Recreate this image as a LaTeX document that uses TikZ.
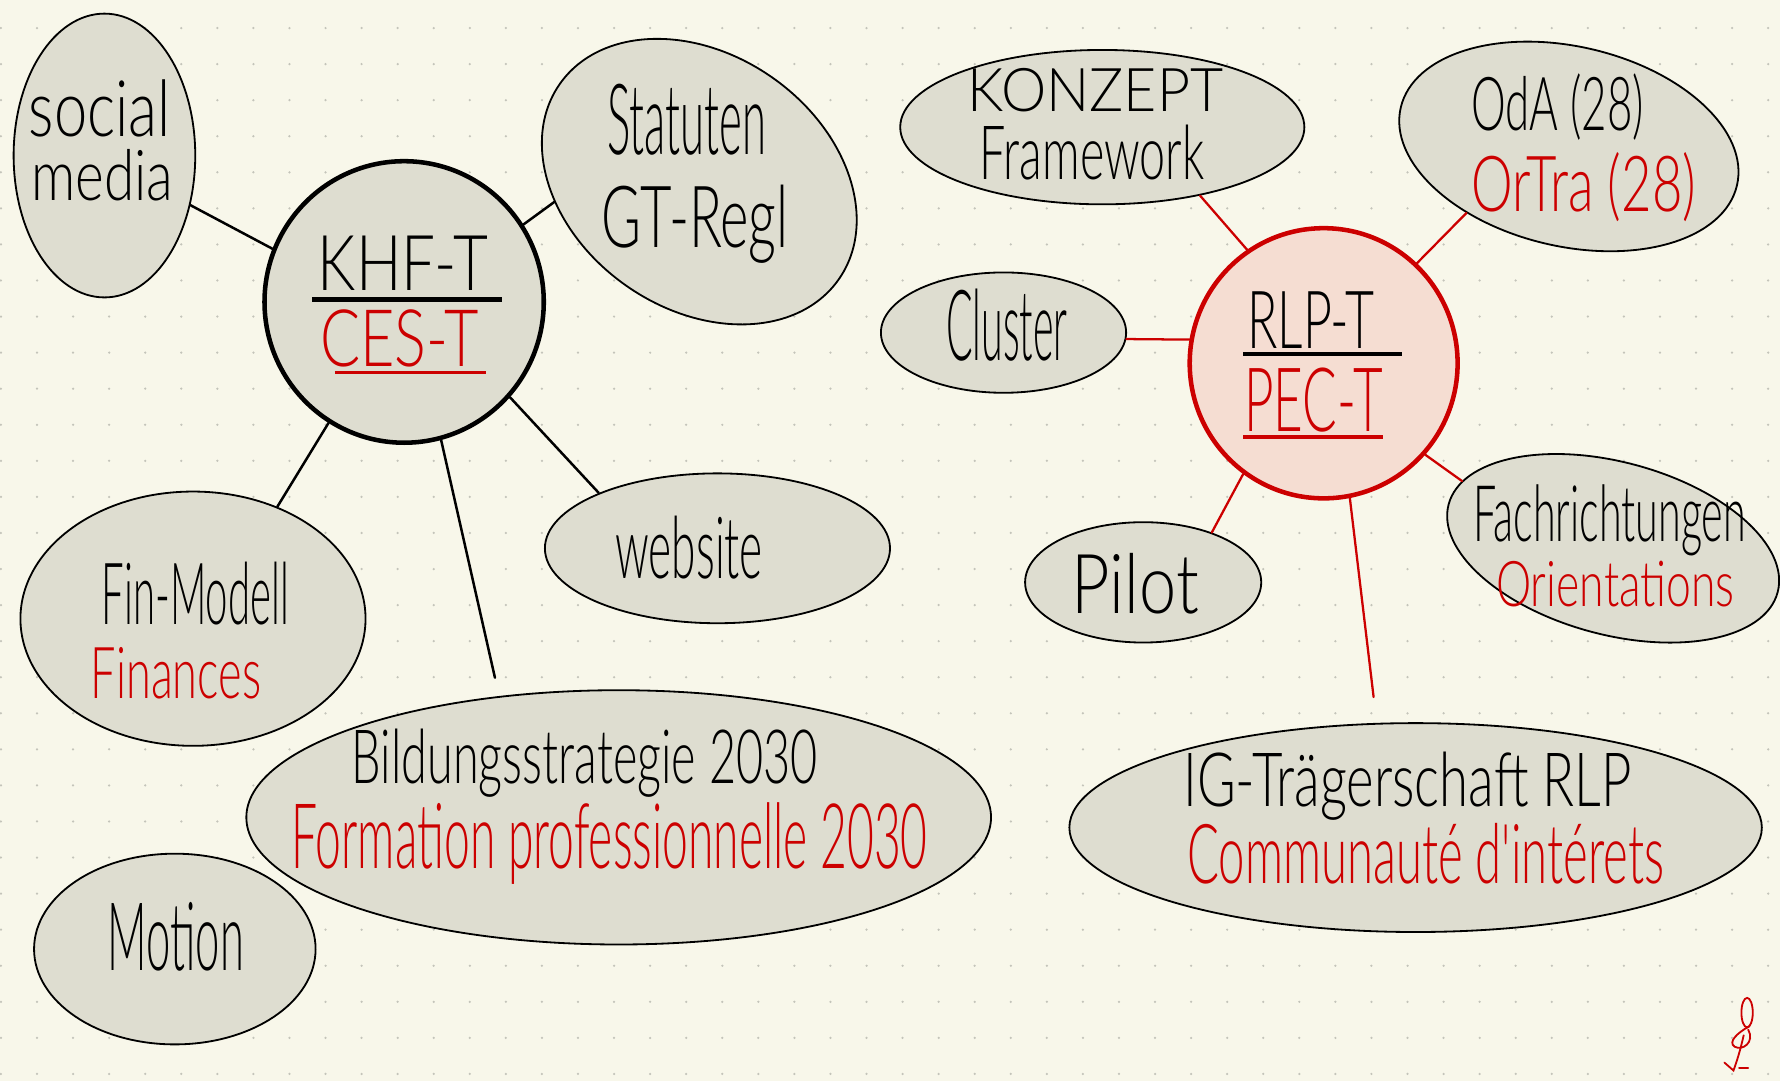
\documentclass[tikz,border=0pt]{standalone}
\usepackage{fontspec}
\usepackage{graphicx}
\newfontfamily\hand{Lato Light}[FakeStretch=0.75]
\usetikzlibrary{shapes.geometric}
\definecolor{bg}{RGB}{248,247,234}
\definecolor{bub}{RGB}{222,221,208}
\definecolor{pen}{RGB}{204,0,0}
\definecolor{pinkfill}{RGB}{245,221,210}
\definecolor{dotc}{RGB}{196,196,186}
\newcommand\hw[3]{\resizebox{#1pt}{#2pt}{\hand #3}}
\begin{document}
\begin{tikzpicture}[x=1pt,y=-1pt,
  bubble/.style={ellipse, draw=black, line width=1.6pt, fill=bub, inner sep=0pt},
  hub/.style={ellipse, line width=4pt, inner sep=0pt},
  link/.style={line width=2.2pt, line cap=round, draw=black},
  rlink/.style={line width=2pt, line cap=round, draw=pen},
  txt/.style={inner sep=0pt, anchor=base},
  rtxt/.style={inner sep=0pt, anchor=base, text=pen}]
\useasboundingbox (0,0) rectangle (1568,952);
\fill[bg] (0,0) rectangle (1568,952);
\foreach \i in {0,...,49}{\foreach \j in {0,...,29}{\fill[dotc] (0.83+31.77*\i,24.7+31.77*\j) circle (1.1);}}

% left cluster
\node[bubble, minimum width=160pt, minimum height=250pt] (sm) at (92,137) {};
\node[hub, draw=black, fill=bub, minimum width=246pt, minimum height=248pt] (khf) at (356,266) {};
\node[bubble, minimum width=300pt, minimum height=224pt, rotate=-35] (stat) at (616,160) {};
\node[bubble, minimum width=304pt, minimum height=132pt] (web) at (632,483) {};
\node[bubble, minimum width=304pt, minimum height=224pt] (fin) at (170,545) {};
\node[bubble, minimum width=656pt, minimum height=224pt] (bild) at (545,720) {};
\node[bubble, minimum width=248pt, minimum height=168pt] (mot) at (154,836) {};

% right cluster
\node[bubble, minimum width=356pt, minimum height=136pt] (konz) at (971,112) {};
\node[bubble, minimum width=304pt, minimum height=176pt, rotate=-13] (oda) at (1382,129) {};
\node[bubble, minimum width=216pt, minimum height=106pt] (clus) at (884,293) {};
\node[hub, draw=pen, fill=pinkfill, minimum width=236pt, minimum height=238pt] (rlp) at (1166,320) {};
\node[bubble, minimum width=300pt, minimum height=152pt, rotate=-15] (fach) at (1421,483) {};
\node[bubble, minimum width=208pt, minimum height=106pt] (pil) at (1007,513) {};
\node[bubble, minimum width=610pt, minimum height=184pt] (ig) at (1247,729) {};

% connectors
\coordinate (bildtip) at (436,597);
\coordinate (igtip) at (1210,614);
\draw[link] (sm.-30.4) -- (khf.158.4);
\draw[link] (khf.33.7) -- (stat.223.3);
\draw[link] (khf.-122.4) -- (fin.53.1);
\draw[link] (khf.-42.9) -- (web.155.8);
\draw[link] (khf.-75.7) -- (bildtip);
\draw[rlink] (konz.-35) -- (rlp.124.8);
\draw[rlink] (oda.226.4) -- (rlp.47.7);
\draw[rlink] (clus.-3) -- (rlp.170.4);
\draw[rlink] (rlp.-42.7) -- (fach.171.9);
\draw[rlink] (rlp.-126.5) -- (pil.36.7);
\draw[rlink] (rlp.-79.9) -- (igtip);

% texts (x centre, baseline)
\node[txt] (t1) at (88,120) {\hw{125}{50}{social}};
\node[txt] (t2) at (90,177) {\hw{125}{45}{media}};
\node[txt] (t3) at (355,256) {\hw{150}{48}{KHF-T}};
\node[rtxt] (t4) at (352,323) {\hw{140}{50}{CES-T}};
\draw[line width=4pt] (275,264) -- (442,264);
\draw[pen, line width=3pt] (295,328) -- (428,328);
\node[txt] (t5) at (605,136) {\hw{140}{62}{Statuten}};
\node[txt] (t6) at (612,218) {\hw{165}{55}{GT-Regl}};
\node[txt] (t7) at (607,510) {\hw{130}{55}{website}};
\node[txt] (t8) at (172,550) {\hw{165}{55}{Fin-Modell}};
\node[rtxt] (t9) at (155,615) {\hw{150}{45}{Finances}};
\node[txt] (t10) at (515,690) {\hw{410}{48}{Bildungsstrategie 2030}};
\node[rtxt] (t11) at (537,765) {\hw{560}{58}{Formation professionnelle 2030}};
\node[txt] (t12) at (155,855) {\hw{120}{60}{Motion}};
\node[txt] (t13) at (965,98) {\hw{225}{38}{KONZEPT}};
\node[txt] (t14) at (962,158) {\hw{198}{48}{Framework}};
\node[txt] (t15) at (1372,115) {\hw{152}{50}{OdA (28)}};
\node[rtxt] (t16) at (1395,186) {\hw{198}{52}{OrTra (28)}};
\node[txt] (t17) at (887,318) {\hw{107}{63}{Cluster}};
\node[txt] (t18) at (1155,307) {\hw{112}{50}{RLP-T}};
\node[rtxt] (t19) at (1157,380) {\hw{122}{56}{PEC-T}};
\draw[line width=4pt] (1095,312) -- (1235,312);
\draw[pen, line width=3.5pt] (1095,385) -- (1218,385);
\node[txt] (t20) at (1418,477) {\hw{240}{50}{Fachrichtungen}};
\node[rtxt] (t21) at (1423,534) {\hw{210}{40}{Orientations}};
\node[txt] (t22) at (1000,540) {\hw{112}{53}{Pilot}};
\node[txt] (t23) at (1240,710) {\hw{395}{48}{IG-Trägerschaft RLP}};
\node[rtxt] (t24) at (1256,778) {\hw{420}{53}{Communauté d'intérets}};

% signature
\draw[pen, line width=1.6pt] (1539,892) ellipse (5 and 13);
\draw[pen, line width=1.6pt, line cap=round] (1541,904) .. controls (1530,910) and (1522,918) .. (1528,922) .. controls (1535,926) and (1546,918) .. (1540,907);
\draw[pen, line width=1.6pt, line cap=round] (1536,912) .. controls (1533,925) and (1530,935) .. (1527,943) -- (1519,936);
\draw[pen, line width=1.6pt, line cap=round] (1532,941) -- (1540,941);
\end{tikzpicture}
\end{document}
